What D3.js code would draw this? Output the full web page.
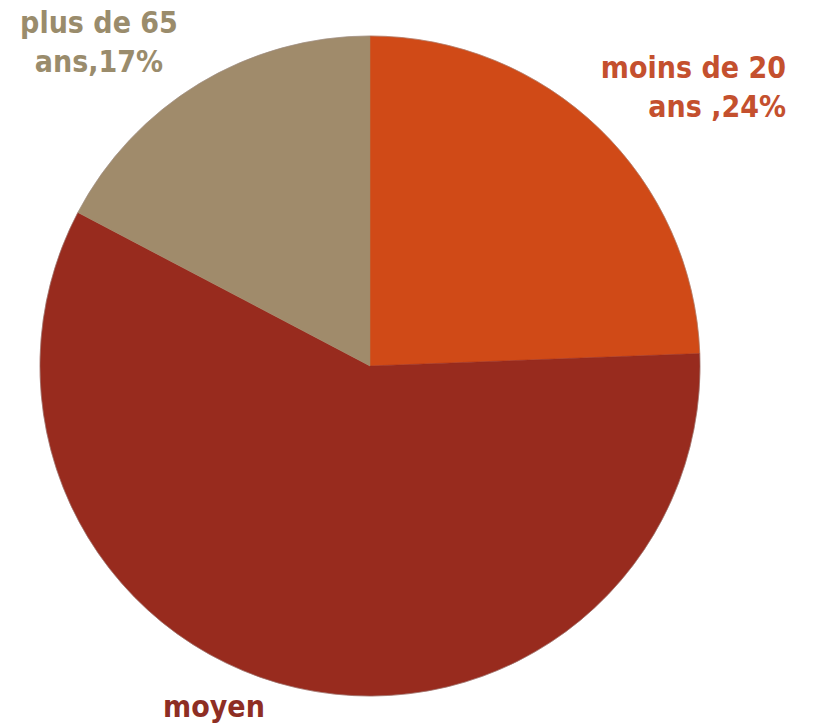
<!DOCTYPE html>
<html>
<head>
<meta charset="utf-8">
<script src="https://cdn.jsdelivr.net/npm/d3@7"></script>
<style>
  body { margin: 0; background: #fff; }
  svg { display: block; }
</style>
</head>
<body>
<svg id="chart"></svg>
<script>
// data (slice sizes, labels as printed)
const categories = ['moins de 20 ans', 'moyen', 'plus de 65 ans'];
const values = [24.4, 58.3, 17.3];
const sliceColors = ['#D04A17', '#982B1E', '#A08B6B'];
const labelColors = ['#C4502E', '#8E2E24', '#9A8C6C'];
const labelLines = [['moins de 20', 'ans ,24%'], ['moyen'], ['plus de 65', 'ans,17%']];

const width = 819, height = 726;
const cx = 370, cy = 366, radius = 330;

const svg = d3.select('#chart')
    .attr('width', width)
    .attr('height', height);

const pie = d3.pie().sort(null).value(d => d);
const arc = d3.arc().innerRadius(0).outerRadius(radius);

const g = svg.append('g')
    .attr('transform', 'translate(' + cx + ',' + cy + ')');

g.selectAll('path')
    .data(pie(values))
    .enter()
    .append('path')
    .attr('d', arc)
    .attr('fill', (d, i) => sliceColors[i])
    .attr('stroke', (d, i) => sliceColors[i])
    .attr('stroke-width', 0.5);

// faint outer edge
g.append('circle')
    .attr('r', radius)
    .attr('fill', 'none')
    .attr('stroke', '#9a8a86')
    .attr('stroke-width', 1)
    .attr('opacity', 0.5);

// labels placed outside the pie
const labelPos = [[786, 78, 'end'], [214, 717, 'middle'], [99, 33, 'middle']];
const lineGap = 39;

labelLines.forEach(function(lines, i) {
    const t = svg.append('text')
        .attr('x', labelPos[i][0])
        .attr('y', labelPos[i][1])
        .attr('text-anchor', labelPos[i][2])
        .attr('fill', labelColors[i])
        .style('font-family', '"DejaVu Sans Condensed", "DejaVu Sans", sans-serif')
        .style('font-weight', 'bold')
        .style('font-size', '30px');
    lines.forEach(function(l, j) {
        t.append('tspan')
            .attr('x', labelPos[i][0])
            .attr('dy', j === 0 ? 0 : lineGap)
            .text(l);
    });
});
</script>
</body>
</html>
